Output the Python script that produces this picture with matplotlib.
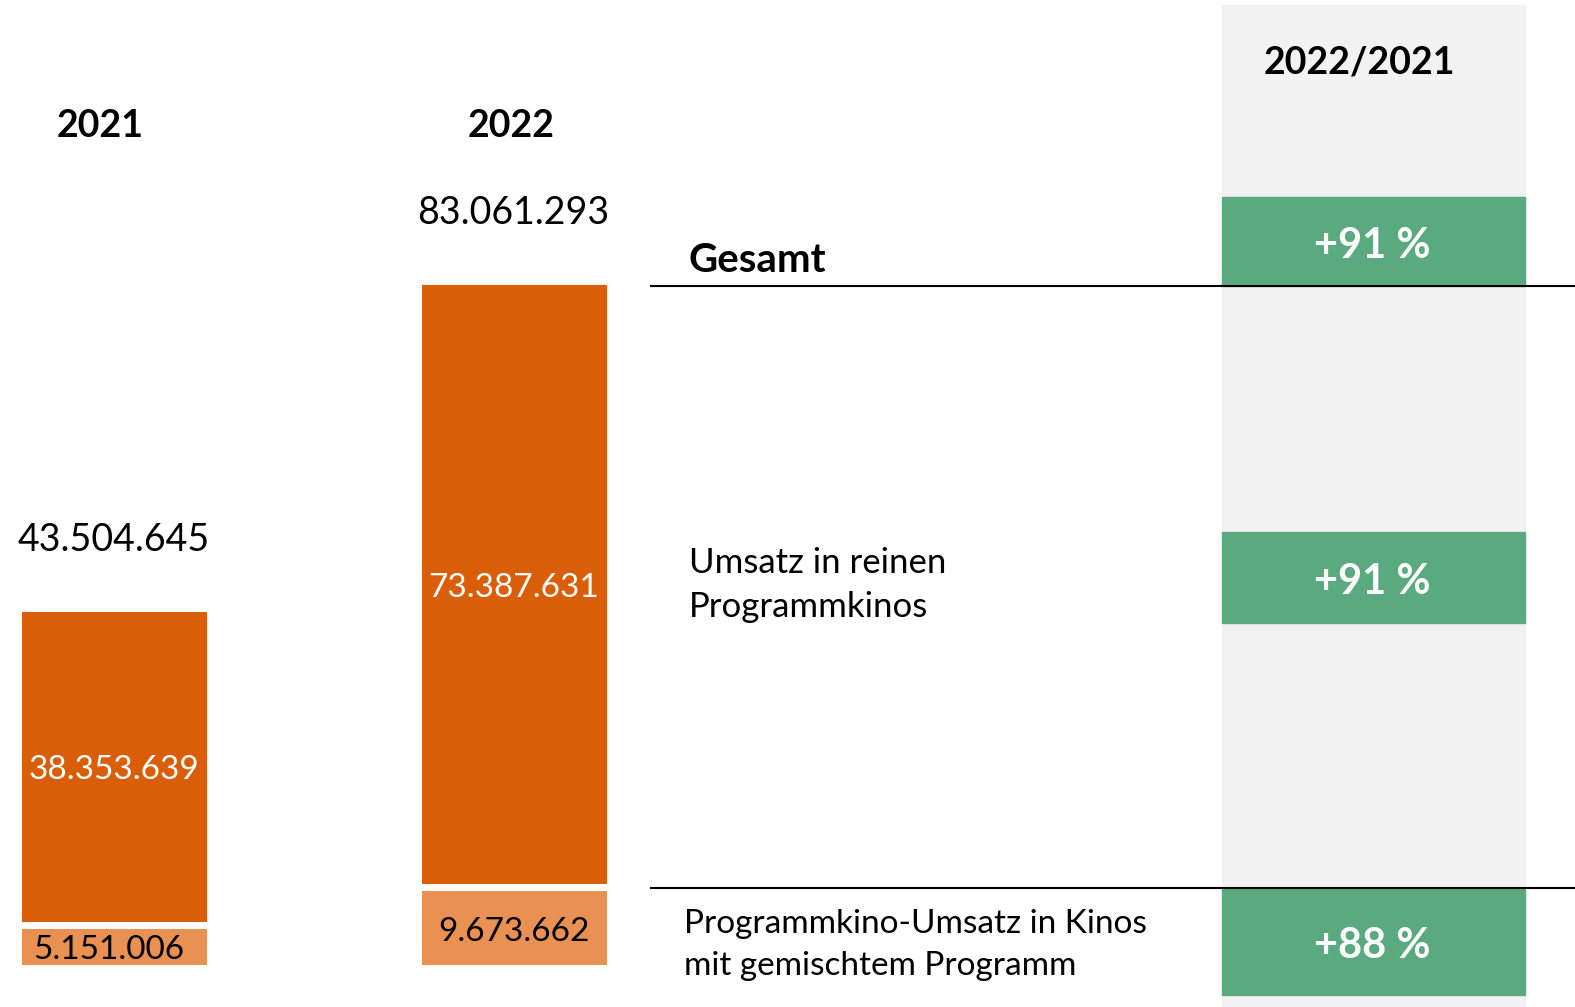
import matplotlib.pyplot as plt
from matplotlib.patches import Rectangle

plt.rcParams['font.family'] = ['Lato', 'DejaVu Sans']

# Daten
jahre = ['2021', '2022']
programmkinos = [38353639, 73387631]      # Umsatz in reinen Programmkinos
gemischt = [5151006, 9673662]             # Programmkino-Umsatz in Kinos mit gemischtem Programm
zeilen = ['Gesamt', 'Umsatz in reinen\nProgrammkinos',
          'Programmkino-Umsatz in Kinos\nmit gemischtem Programm']

ORANGE = '#DA5E07'
ORANGE_HELL = '#E89152'
GRUEN = '#5BA97E'
GRAU = '#F2F2F2'

W, H = 1575, 1007


def fmt(v):
    return f'{v:,}'.replace(',', '.')


fig = plt.figure(figsize=(W / 100, H / 100), dpi=100)

# Hintergrund-Achse in Pixelkoordinaten für Layout-Elemente
bg = fig.add_axes([0, 0, 1, 1])
bg.set_xlim(0, W)
bg.set_ylim(H, 0)
bg.axis('off')

bg.add_patch(Rectangle((1221.5, 5), 303.5, H - 5, color=GRAU, zorder=0))
bg.text(1359, 62, '2022/2021', ha='center', va='center', fontsize=27, fontweight='bold')

gesamt = [a + b for a, b in zip(programmkinos, gemischt)]
aenderung = [gesamt[1] / gesamt[0] - 1,
             programmkinos[1] / programmkinos[0] - 1,
             gemischt[1] / gemischt[0] - 1]

boxen = [(197, 286), (532, 623), (889, 995)]
for (y0, y1), ch in zip(boxen, aenderung):
    bg.add_patch(Rectangle((1221.5, y0), 303.5, y1 - y0, color=GRUEN, zorder=1))
    bg.text(1372, (y0 + y1) / 2 + 4, f'+{ch * 100:.0f} %', ha='center', va='center',
            fontsize=30, fontweight='bold', color='white', zorder=3)

bg.plot([651, W], [286, 286], color='black', lw=1.5, zorder=2)
bg.plot([651, W], [888, 888], color='black', lw=1.5, zorder=2)

bg.text(689, 261, zeilen[0], ha='left', va='center', fontsize=29, fontweight='bold')
bg.text(689, 585, zeilen[1], ha='left', va='center', fontsize=25, linespacing=1.47)
bg.text(684, 945, zeilen[2], ha='left', va='center', fontsize=24, linespacing=1.49)

bg.text(100.5, 126, jahre[0], ha='center', va='center', fontsize=27, fontweight='bold')
bg.text(511, 126, jahre[1], ha='center', va='center', fontsize=27, fontweight='bold')

# Balken-Achse (Werte in Mio.)
px_per_mio = 8.27
y0_px = 967.5
ax = fig.add_axes([0, (H - y0_px) / H, 640 / W, y0_px / H])
ax.set_xlim(0, 640)
ax.set_ylim(0, y0_px / px_per_mio)
ax.axis('off')

x = [113.5, 513.5]
unten = [v / 1e6 for v in gemischt]
oben = [v / 1e6 for v in programmkinos]
ax.bar(x, unten, width=192, color=ORANGE_HELL, edgecolor='white', linewidth=5)
ax.bar(x, oben, bottom=unten, width=192, color=ORANGE, edgecolor='white', linewidth=5)

for i in range(2):
    ax.annotate(fmt(gemischt[i]), (x[i] - (5 if i == 0 else 0), unten[i] / 2),
                xytext=(0, -3), textcoords='offset points',
                ha='center', va='center', fontsize=24, color='black')
    ax.annotate(fmt(programmkinos[i]), (x[i], unten[i] + oben[i] / 2),
                xytext=(0, -3), textcoords='offset points',
                ha='center', va='center', fontsize=24, color='white')
    ax.annotate(fmt(gesamt[i]), (x[i], unten[i] + oben[i]), xytext=(0, 49),
                textcoords='offset points', ha='center', va='center', fontsize=27)

fig.savefig('out.png', dpi=100)
